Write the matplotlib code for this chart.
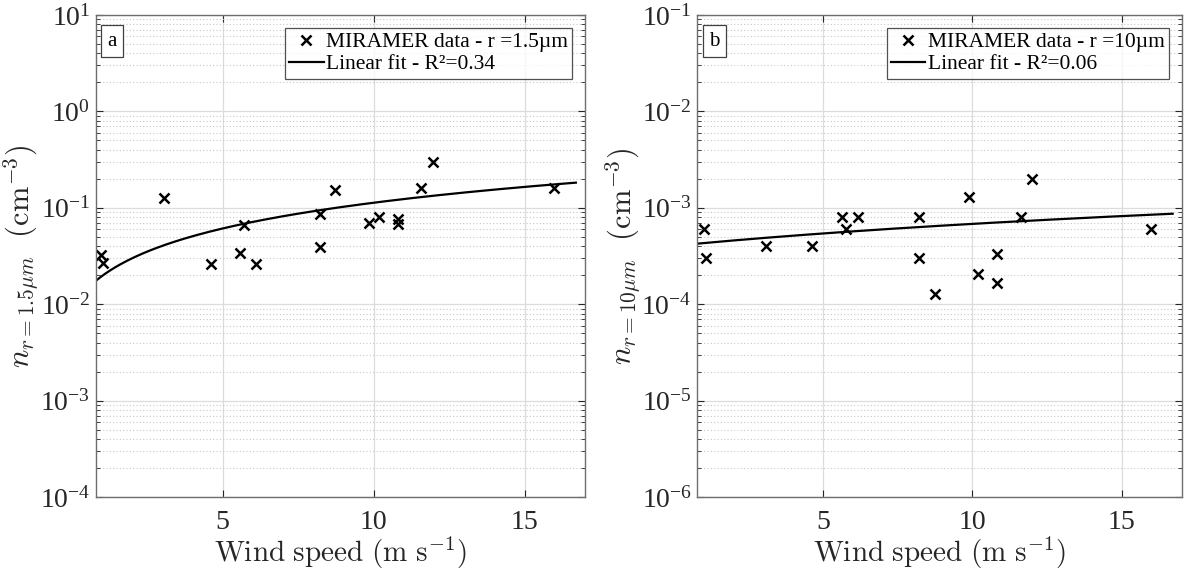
import numpy as np
from matplotlib import pyplot as plt
from matplotlib.ticker import LogLocator, NullLocator, FixedLocator


# wind speed for each MIRAMER sample (m/s)
wind_a = [0.98, 1.04, 3.07, 4.60, 5.59, 5.72, 6.12, 8.21, 8.21, 8.72,
          9.85, 10.18, 10.80, 10.80, 11.58, 11.96, 15.97]
wind_b = [1.03, 1.08, 3.11, 4.63, 5.63, 5.77, 6.17, 8.23, 8.23, 8.74,
          9.88, 10.19, 10.83, 10.83, 11.61, 11.98, 15.97]

# concentrations (cm^-3)
n_15um = [0.0327, 0.0268, 0.125, 0.026, 0.034, 0.0665, 0.026, 0.0853, 0.0396, 0.154,
          0.0698, 0.080, 0.0762, 0.0682, 0.159, 0.30, 0.159]
n_10um = [6.07e-4, 3.01e-4, 3.98e-4, 3.98e-4, 8.07e-4, 6.07e-4, 8.07e-4, 8.07e-4, 3.04e-4, 1.29e-4,
          1.30e-3, 2.04e-4, 3.29e-4, 1.65e-4, 8.07e-4, 2.01e-3, 6.07e-4]

# linear fit coefficients: n = intercept + slope * U
fit_a = (0.00923, 0.01035)
fit_b = (4.02e-4, 2.785e-5)
r2_a = 0.34
r2_b = 0.06

XLIM = (0.8, 17)
SERIF = "Liberation Serif"

plt.rcParams["font.family"] = SERIF
plt.rcParams["mathtext.fontset"] = "cm"


def draw_panel(ax, wind, n, fit, r2, radius, ylim, tag):
    ax.plot(wind, n, "x", color="k", ms=6.5, mew=1.8,
            label="MIRAMER data - r =" + radius + "µm")
    u = np.linspace(XLIM[0], 16.7, 200)
    ax.plot(u, fit[0] + fit[1] * u, "-", color="k", lw=1.6,
            label="Linear fit - R²={:.2f}".format(r2))
    ax.set_yscale("log")
    ax.set_xlim(*XLIM)
    ax.set_ylim(*ylim)
    ax.xaxis.set_major_locator(FixedLocator([5, 10, 15]))
    ax.xaxis.set_minor_locator(NullLocator())
    ax.yaxis.set_major_locator(LogLocator(base=10, numticks=20))
    ax.yaxis.set_minor_locator(LogLocator(base=10, subs=np.arange(2, 10), numticks=20))

    ax.grid(True, which="major", color="#dcdcdc", lw=0.9, ls="-")
    ax.grid(True, which="minor", axis="y", color="#c8c8c8", lw=0.8, ls=(0, (1, 2)))
    ax.set_axisbelow(True)

    ax.tick_params(which="both", direction="in", top=True, right=True,
                   colors="#262626", labelcolor="#262626", labelsize=20)
    ax.tick_params(which="major", length=5, width=0.8)
    ax.tick_params(which="minor", length=3, width=0.6)
    ax.tick_params(axis="x", pad=9)
    ax.tick_params(axis="y", pad=4)
    for s in ax.spines.values():
        s.set_color("#6e6e6e")
        s.set_linewidth(1.0)

    ax.set_xlabel(r"$\mathrm{Wind\ speed\ (m\ s^{-1})}$", fontsize=21, labelpad=0,
                  color="#262626")
    ax.set_ylabel(r"$n_{r=" + radius + r"\mu m}\ \ (\mathrm{cm}^{-3})$", fontsize=22,
                  labelpad=-1, color="#262626")

    leg = ax.legend(loc="upper right", fontsize=15.5, frameon=True, fancybox=False,
                    borderaxespad=0.6, handlelength=1.6, handletextpad=0.1,
                    borderpad=0.2, labelspacing=0.1)
    leg.get_frame().set_edgecolor("#262626")
    leg.get_frame().set_linewidth(0.9)

    ax.text(0.024, 0.965, tag, transform=ax.transAxes, fontsize=15, va="top", ha="left",
            bbox=dict(boxstyle="square,pad=0.3", fc="white", ec="#404040", lw=0.9))


fig = plt.figure(figsize=(11.84, 5.72), dpi=100)
ax1 = fig.add_axes([0.081, 0.131, 0.413, 0.843])
ax2 = fig.add_axes([0.589, 0.131, 0.409, 0.843])

draw_panel(ax1, wind_a, n_15um, fit_a, r2_a, "1.5", (1e-4, 1e1), "a")
draw_panel(ax2, wind_b, n_10um, fit_b, r2_b, "10", (1e-6, 1e-1), "b")

fig.savefig("out.png", dpi=100)
